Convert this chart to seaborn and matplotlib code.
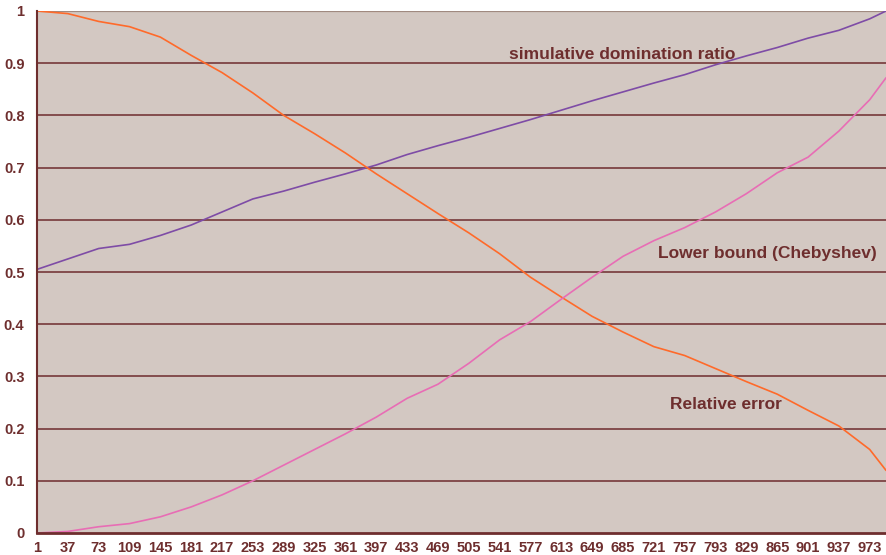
import matplotlib
matplotlib.use("Agg")
import matplotlib.pyplot as plt
from matplotlib.ticker import FixedLocator
import pandas as pd
import seaborn as sns

# values at each labelled category
steps = [1, 37, 73, 109, 145, 181, 217, 253, 289, 325, 361, 397, 433, 469, 505,
         541, 577, 613, 649, 685, 721, 757, 793, 829, 865, 901, 937, 973, 992]
domination_ratio = [0.505, 0.525, 0.545, 0.553, 0.570, 0.590, 0.615, 0.640, 0.655, 0.672,
                    0.688, 0.705, 0.725, 0.742, 0.758, 0.775, 0.792, 0.810, 0.828, 0.845,
                    0.862, 0.878, 0.897, 0.914, 0.930, 0.948, 0.963, 0.985, 1.000]
relative_error = [1.000, 0.995, 0.980, 0.970, 0.950, 0.915, 0.882, 0.843, 0.800, 0.765,
                  0.728, 0.688, 0.650, 0.612, 0.575, 0.535, 0.490, 0.452, 0.415, 0.385,
                  0.357, 0.340, 0.315, 0.290, 0.266, 0.235, 0.205, 0.160, 0.120]
lower_bound = [0.000, 0.003, 0.012, 0.018, 0.031, 0.050, 0.073, 0.100, 0.130, 0.160,
               0.190, 0.222, 0.258, 0.285, 0.325, 0.370, 0.405, 0.448, 0.490, 0.530,
               0.560, 0.585, 0.615, 0.650, 0.690, 0.720, 0.770, 0.830, 0.872]
tick_labels = [str(s) for s in steps[:-1]]

BG = "#D3C8C2"
BROWN = "#6E2E2E"
GRID = "#7D4444"

sns.set_style("white", {"axes.facecolor": BG})
plt.rcParams["font.family"] = ["Liberation Sans", "DejaVu Sans"]

df = pd.DataFrame({"step": steps,
                   "dom": domination_ratio,
                   "err": relative_error,
                   "low": lower_bound})

fig = plt.figure(figsize=(8.87, 5.55), dpi=100)
ax = fig.add_axes([37 / 887, 22 / 555, 849 / 887, 522 / 555])

sns.lineplot(data=df, x="step", y="dom", color="#7E4CA6", linewidth=1.2, ax=ax)
sns.lineplot(data=df, x="step", y="err", color="#FF6A2A", linewidth=1.2, ax=ax)
sns.lineplot(data=df, x="step", y="low", color="#E86DB5", linewidth=1.2, ax=ax)

ax.set_xlim(1, 992)
ax.set_ylim(0, 1)
ax.set_xlabel("")
ax.set_ylabel("")

yt = [i / 10 for i in range(11)]
ax.set_yticks(yt)
ax.set_yticklabels(["0"] + [f"{v:.1f}" for v in yt[1:-1]] + ["1"])
for v in yt[1:-1]:
    ax.axhline(v, color=GRID, linewidth=1.3, zorder=0.5)
ax.axhline(1.0, color="#A08A80", linewidth=1.6, zorder=0.5)

ax.set_xticks(steps[:-1])
ax.set_xticklabels(tick_labels)
ax.xaxis.set_minor_locator(FixedLocator(list(range(1, 993, 4))))

ax.tick_params(axis="both", colors=BROWN, labelcolor=BROWN, labelsize=10.5)
ax.tick_params(axis="x", which="major", length=4, width=1.2, direction="out", pad=2)
ax.tick_params(axis="x", which="minor", length=4, width=1.2, direction="out", color=BROWN)
ax.tick_params(axis="y", length=4, width=1.2, direction="out", pad=5)
for lab in ax.get_xticklabels() + ax.get_yticklabels():
    lab.set_fontweight("bold")

for side in ["top", "right"]:
    ax.spines[side].set_visible(False)
ax.spines["left"].set_color(BROWN)
ax.spines["left"].set_linewidth(1.5)
ax.spines["bottom"].set_color(BROWN)
ax.spines["bottom"].set_linewidth(2)

ax.text(684, 0.9175, "simulative domination ratio", color=BROWN, fontsize=12.5,
        fontweight="bold", ha="center", va="center")
ax.text(854, 0.536, "Lower bound (Chebyshev)", color=BROWN, fontsize=12.5,
        fontweight="bold", ha="center", va="center")
ax.text(805, 0.246, "Relative error", color=BROWN, fontsize=12.5,
        fontweight="bold", ha="center", va="center")

fig.savefig("out.png", dpi=100, facecolor="white")
